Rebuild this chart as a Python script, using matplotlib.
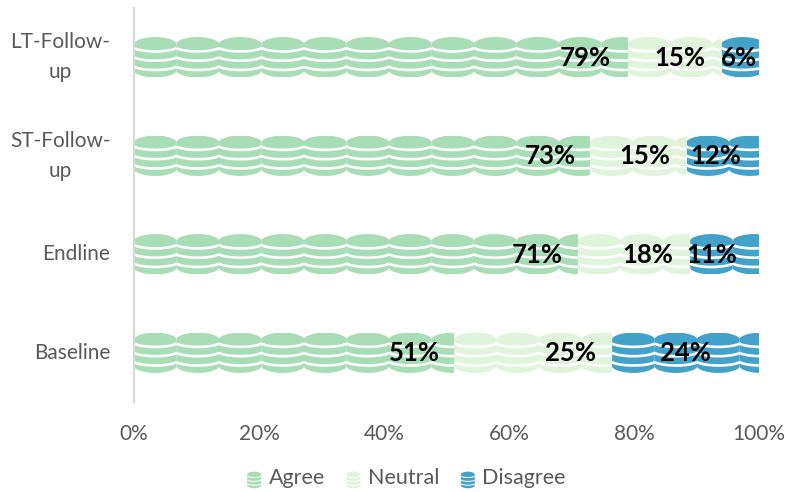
import numpy as np
import matplotlib
matplotlib.use('Agg')
import matplotlib.pyplot as plt
from matplotlib.patches import Polygon
from matplotlib.lines import Line2D
from matplotlib.legend_handler import HandlerBase

#---------------------------------DATOS--------------------------------------------------
categories = ['Baseline', 'Endline', 'ST-Follow-\nup', 'LT-Follow-\nup']
agree = [51.2, 71, 73, 79]
neutral = [25.3, 18, 15.4, 15]
disagree = [23.5, 11, 11.6, 6]
series_names = ['Agree', 'Neutral', 'Disagree']
tick_values = [0, 20, 40, 60, 80, 100]

# where the value labels sit along the x axis
agree_label_x = [44.8, 64.5, 66.6, 72.2]
neutral_label_x = [69.8, 82.2, 81.8, 87.4]
disagree_label_x = [88.2, 92.5, 93.1, 96.8]

colors = ['#a8ddb5', '#e0f3db', '#43a2ca']
coin_w = 6.8
bar_h = 0.41

plt.rcParams['font.family'] = ['Lato', 'DejaVu Sans']


def coin(x0, yc, w, h, color, lw, transform):
    # a small stack of coins: filled body, then white curved lines over it
    t = np.linspace(-1, 1, 61)
    xs = x0 + (t + 1) * w / 2
    ry = 0.15 * h
    curve = ry * (1 - t**2) ** 0.65
    top = yc + h / 2 - ry + curve
    bottom = yc - h / 2 + ry - curve
    body = np.column_stack([np.r_[xs, xs[::-1]], np.r_[top, bottom[::-1]]])
    arts = [Polygon(body, closed=True, fc=color, ec='none', transform=transform)]
    for f in [0.31, 0.54, 0.77]:
        y_edge = yc + h / 2 - f * h + 0.3 * ry
        arts.append(Line2D(xs, y_edge - curve * 0.6, color='white', lw=lw,
                           solid_capstyle='butt', transform=transform))
    return arts


class CoinHandler(HandlerBase):
    def create_artists(self, legend, orig, xd, yd, width, height, fontsize, trans):
        return coin(width / 2 - 5, height / 2 - 6 + 3.5, 10, 12, orig.get_facecolor(), 0.7, trans)


fig = plt.figure(figsize=(7.86, 4.92), dpi=100)
ax = fig.add_axes([134 / 786, 1 - 402 / 492, 625 / 786, 394 / 492])

y = np.arange(len(categories))
left = np.zeros(len(categories))
handles = []
for vals, col, name, lab_x in zip([agree, neutral, disagree], colors, series_names,
                                  [agree_label_x, neutral_label_x, disagree_label_x]):
    bars = ax.barh(y, vals, left=left, height=bar_h, color='none', edgecolor='none', label=name)
    for rect in bars:
        x0 = rect.get_x()
        yc = rect.get_y() + rect.get_height() / 2
        for start in np.arange(x0, x0 + rect.get_width(), coin_w):
            for a in coin(start, yc, coin_w, bar_h, col, 1.9, ax.transData):
                ax.add_artist(a)
                a.set_clip_path(rect)
    for yi, v, lx in zip(y, vals, lab_x):
        ax.text(lx, yi - 0.005, '%.0f%%' % v, ha='center', va='center',
                fontsize=18.5, fontweight='bold', color='black', zorder=10)
    left = left + np.array(vals)
    handles.append(plt.Rectangle((0, 0), 1, 1, fc=col, label=name))

ax.set_xlim(0, 100)
ax.set_ylim(-0.5, 3.5)
ax.set_yticks(y)
ax.set_yticklabels(categories, ma='center', va='center', linespacing=1.6)
ax.set_xticks(tick_values)
ax.set_xticklabels(['%d%%' % v for v in tick_values])
ax.tick_params(axis='both', length=0, labelsize=15, labelcolor='#595959')
ax.tick_params(axis='y', pad=17)
ax.tick_params(axis='x', pad=15.5)
for s in ['top', 'right', 'bottom']:
    ax.spines[s].set_visible(False)
ax.spines['left'].set_color('#d9d9d9')
ax.spines['left'].set_linewidth(1.6)

fig.legend(handles=handles, loc='center', bbox_to_anchor=(406.5 / 786, 1 - 478 / 492), ncol=3,
           frameon=False, fontsize=15.5, labelcolor='#595959', handler_map={plt.Rectangle: CoinHandler()},
           handlelength=0.65, handletextpad=0.35, columnspacing=1.0)

fig.savefig('out.png', dpi=100)
